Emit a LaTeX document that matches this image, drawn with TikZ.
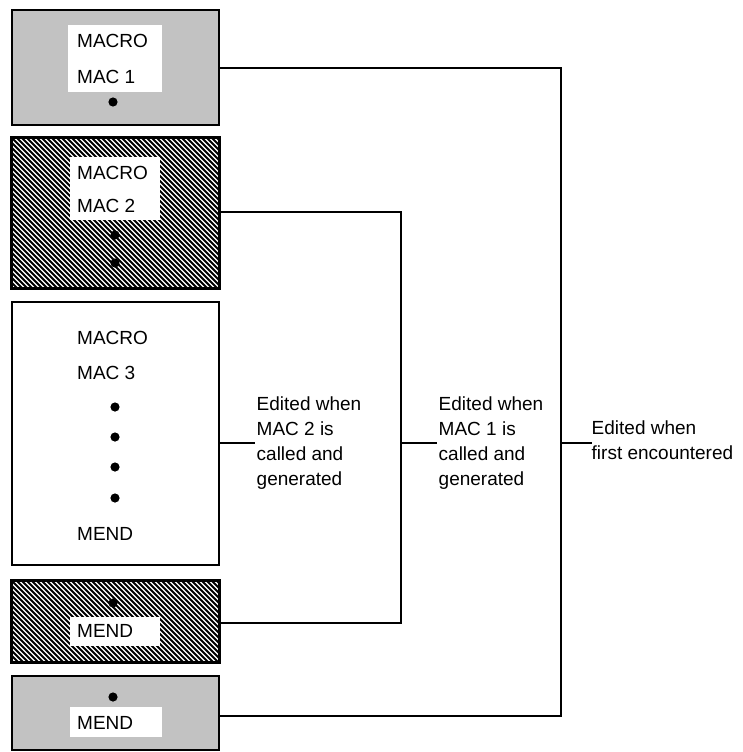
\documentclass[tikz,border=0pt]{standalone}
\usepackage{fontspec}
\setmainfont{Liberation Sans}
\begin{document}
\begin{tikzpicture}[x=1pt,y=-1pt,
  box/.style={draw=black, line width=2.1pt, inner sep=0pt, anchor=north west, minimum width=207pt},
  txt/.style={inner sep=0pt, anchor=base west, font=\fontsize{19}{25}\selectfont},
  link/.style={line width=1.6pt},
  hatchline/.style={line width=1.8pt},
  border/.style={line width=2.1pt}]
\useasboundingbox (0,0) rectangle (742,752);

% boxes
\node[box, fill=black!24, minimum height=115pt] (b1) at (11,9) {};
\node[box, fill=white, minimum height=150pt] (b2) at (11,137) {};
\node[box, fill=white, minimum height=263pt] (b3) at (11,301) {};
\node[box, fill=white, minimum height=81pt] (b4) at (11,580) {};
\node[box, fill=black!24, minimum height=74pt] (b5) at (11,675) {};

% hatching
\begin{scope}
  \clip (b2.north west) rectangle (b2.south east);
  \foreach \i in {-170,-165,...,215} \draw[hatchline] ([xshift=\i pt]b2.north west) -- ++(180,180);
\end{scope}
\draw[border] (b2.north west) rectangle (b2.south east);
\begin{scope}
  \clip (b4.north west) rectangle (b4.south east);
  \foreach \i in {-100,-95,...,215} \draw[hatchline] ([xshift=\i pt]b4.north west) -- ++(110,110);
\end{scope}
\draw[border] (b4.north west) rectangle (b4.south east);

% white patches
\fill[white] (68,25) rectangle (162,92);
\fill[white] (70,157) rectangle (160,220);
\fill[white] (70,617) rectangle (160,646);
\fill[white] (70,707) rectangle (162,737);

% dots
\foreach \p in {(113,102),(115,235),(115,263),(115,407),(115,437),(115,467),(115,498),(113,603),(113,697)}
  \fill \p circle (4.6pt);

% box texts
\node[txt] (m1a) at (77,48) {MACRO};
\node[txt] (m1b) at (77,84) {MAC 1};
\node[txt] (m2a) at (77,179) {MACRO};
\node[txt] (m2b) at (77,212) {MAC 2};
\node[txt] (m3a) at (77,344) {MACRO};
\node[txt] (m3b) at (77,379) {MAC 3};
\node[txt] (m3c) at (77,540) {MEND};
\node[txt] (m4) at (77,637) {MEND};
\node[txt] (m5) at (77,729) {MEND};

% labels
\node[txt] (l1a) at (256.5,410) {Edited when};
\node[txt] (l1b) at (256.5,435) {MAC 2 is};
\node[txt] (l1c) at (256.5,460) {called and};
\node[txt] (l1d) at (256.5,485) {generated};
\node[txt] (l2a) at (438.5,410) {Edited when};
\node[txt] (l2b) at (438.5,435) {MAC 1 is};
\node[txt] (l2c) at (438.5,460) {called and};
\node[txt] (l2d) at (438.5,485) {generated};
\node[txt] (l3a) at (591.5,434) {Edited when};
\node[txt] (l3b) at (591.5,459) {first encountered};

% connectors
\coordinate (j1t) at (561,68);
\coordinate (j1b) at (561,716);
\coordinate (j2t) at (401,212);
\coordinate (j2b) at (401,623);
\draw[link] (b1.east |- j1t) -- (j1t) -- (j1b) -- (b5.east |- j1b);
\draw[link] (b2.east |- j2t) -- (j2t) -- (j2b) -- (b4.east |- j2b);
\coordinate (t1) at (255,443);
\coordinate (t2) at (437,443);
\coordinate (t3) at (592,443);
\draw[link] (b3.east |- t1) -- (t1);
\draw[link] (j2t |- t2) -- (t2);
\draw[link] (j1t |- t3) -- (t3);
\end{tikzpicture}
\end{document}
